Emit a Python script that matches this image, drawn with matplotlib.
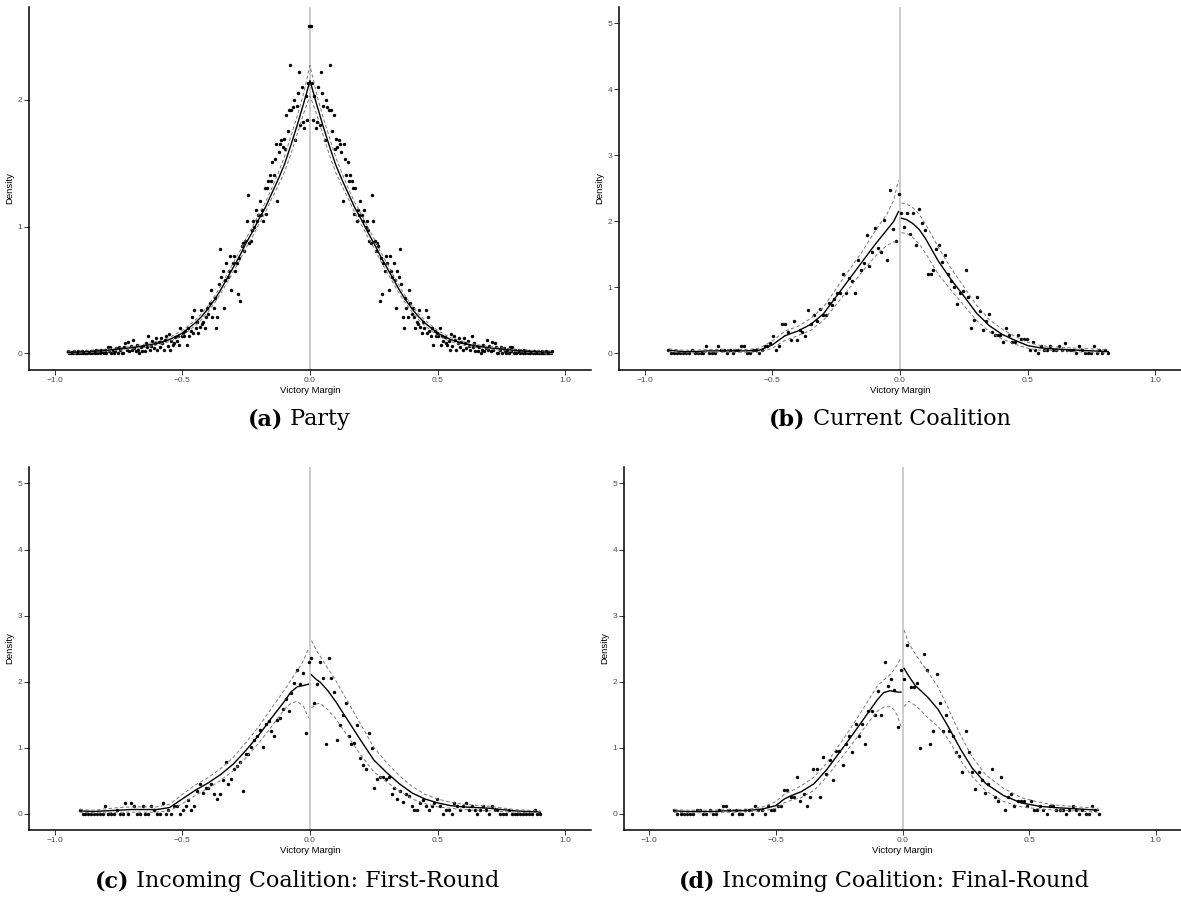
import matplotlib.pyplot as plt
import numpy as np

# (a) Party: the margin is symmetric (winner +m, loser -m), so only the left half is listed
bin_a = 0.005
dens_a_izq = [
    0.02, 0.00, 0.00, 0.01, 0.00, 0.02, 0.00, 0.00, 0.02, 0.00,
    0.00, 0.02, 0.00, 0.00, 0.02, 0.00, 0.01, 0.00, 0.02, 0.00,
    0.02, 0.00, 0.03, 0.00, 0.02, 0.00, 0.03, 0.01, 0.00, 0.03,
    0.00, 0.05, 0.02, 0.05, 0.00, 0.03, 0.00, 0.02, 0.04, 0.00,
    0.05, 0.03, 0.00, 0.00, 0.05, 0.08, 0.03, 0.09, 0.02, 0.06,
    0.03, 0.11, 0.04, 0.02, 0.07, 0.03, 0.00, 0.05, 0.02, 0.06,
    0.02, 0.08, 0.05, 0.135, 0.03, 0.06, 0.10, 0.04, 0.08, 0.12,
    0.03, 0.09, 0.05, 0.12, 0.08, 0.03, 0.11, 0.135, 0.06, 0.155,
    0.03, 0.10, 0.065, 0.08, 0.13, 0.10, 0.14, 0.065, 0.20, 0.135,
    0.16, 0.135, 0.18, 0.065, 0.20, 0.135, 0.18, 0.29, 0.16, 0.34,
    0.20, 0.25, 0.16, 0.21, 0.34, 0.23, 0.25, 0.20, 0.29, 0.36,
    0.31, 0.40, 0.50, 0.29, 0.36, 0.44, 0.20, 0.29, 0.55, 0.82,
    0.60, 0.65, 0.36, 0.58, 0.71, 0.60, 0.65, 0.77, 0.50, 0.71,
    0.77, 0.65, 0.71, 0.47, 0.75, 0.41, 0.85, 0.87, 0.81, 0.89,
    1.04, 1.25, 0.87, 0.89, 0.97, 1.04, 1.00, 1.13, 1.04, 1.09,
    1.20, 1.09, 1.13, 1.04, 1.30, 1.10, 1.30, 1.36, 1.41, 1.36,
    1.51, 1.41, 1.53, 1.65, 1.20, 1.59, 1.65, 1.68, 1.63, 1.69,
    1.61, 1.88, 1.75, 1.92, 2.27, 1.92, 1.94, 2.00, 1.68, 1.95,
    2.05, 2.22, 1.80, 2.10, 1.82, 1.78, 2.03, 1.84, 2.13, 2.58,
]
nudos_a = [-0.95, -0.9, -0.85, -0.8, -0.75, -0.7, -0.65, -0.6, -0.55, -0.5,
           -0.45, -0.425, -0.4, -0.375, -0.35, -0.325, -0.3, -0.275, -0.25,
           -0.225, -0.2, -0.175, -0.15, -0.125, -0.1, -0.075, -0.05, -0.025, 0.0]
ajuste_a = [0.01, 0.013, 0.018, 0.025, 0.035, 0.045, 0.06, 0.08, 0.11, 0.16,
            0.24, 0.29, 0.35, 0.42, 0.50, 0.59, 0.68, 0.77, 0.87,
            0.96, 1.06, 1.15, 1.26, 1.37, 1.49, 1.64, 1.80, 1.97, 2.15]
sup_a = [0.02, 0.022, 0.027, 0.034, 0.045, 0.055, 0.072, 0.094, 0.126, 0.18,
         0.262, 0.313, 0.375, 0.447, 0.53, 0.622, 0.715, 0.805, 0.907,
         0.999, 1.10, 1.19, 1.30, 1.42, 1.55, 1.71, 1.87, 2.05, 2.27]
inf_a = [0.00, 0.004, 0.009, 0.016, 0.025, 0.035, 0.048, 0.066, 0.094, 0.14,
         0.218, 0.267, 0.325, 0.393, 0.47, 0.558, 0.645, 0.735, 0.833,
         0.921, 1.02, 1.11, 1.22, 1.32, 1.43, 1.57, 1.73, 1.89, 2.03]

# (b) Current Coalition
bin_b = 0.0114
dens_b_izq = [
    0.06, 0.00, 0.00, 0.00, 0.00, 0.00, 0.00, 0.00, 0.06, 0.00,
    0.00, 0.00, 0.00, 0.11, 0.00, 0.00, 0.00, 0.11, 0.06, 0.06,
    0.00, 0.06, 0.00, 0.06, 0.06, 0.11, 0.11, 0.00, 0.00, 0.06,
    0.06, 0.00, 0.06, 0.11, 0.11, 0.16, 0.27, 0.06, 0.11, 0.44,
    0.44, 0.32, 0.21, 0.49, 0.21, 0.36, 0.32, 0.27, 0.66, 0.44,
    0.59, 0.49, 0.67, 0.59, 0.59, 0.77, 0.74, 0.82, 0.92, 0.92,
    1.20, 0.92, 1.15, 1.10, 0.92, 1.42, 1.26, 1.37, 1.80, 1.32,
    1.54, 1.90, 1.60, 1.54, 2.03, 1.42, 2.47, 1.88, 1.70, 2.41,
]
dens_b_der = [
    2.13, 1.92, 2.13, 1.81, 2.13, 1.64, 2.19, 1.97, 1.87, 1.20,
    1.20, 1.26, 1.58, 1.64, 1.39, 1.49, 1.21, 1.10, 1.00, 0.75,
    0.92, 0.95, 1.26, 0.85, 0.39, 0.50, 0.85, 0.65, 0.36, 0.49,
    0.60, 0.33, 0.28, 0.28, 0.28, 0.17, 0.39, 0.28, 0.17, 0.17,
    0.28, 0.22, 0.22, 0.22, 0.06, 0.17, 0.06, 0.00, 0.11, 0.06,
    0.06, 0.11, 0.06, 0.06, 0.11, 0.06, 0.16, 0.06, 0.06, 0.06,
    0.00, 0.11, 0.06, 0.00, 0.00, 0.00, 0.11, 0.00, 0.06, 0.00,
    0.06, 0.00,
]
nudos_b_izq = [-0.906, -0.85, -0.8, -0.75, -0.7, -0.65, -0.6, -0.55, -0.5, -0.45, -0.4,
               -0.35, -0.3, -0.25, -0.2, -0.15, -0.1, -0.075, -0.05, -0.025, -0.006]
ajuste_b_izq = [0.05, 0.03, 0.03, 0.04, 0.04, 0.04, 0.04, 0.05, 0.13, 0.27, 0.34,
                0.44, 0.60, 0.86, 1.12, 1.38, 1.64, 1.76, 1.88, 2.00, 2.15]
sup_b_izq = [0.07, 0.05, 0.05, 0.06, 0.06, 0.06, 0.06, 0.08, 0.19, 0.34, 0.41,
             0.53, 0.70, 0.98, 1.26, 1.53, 1.84, 1.98, 2.12, 2.32, 2.62]
inf_b_izq = [0.03, 0.01, 0.01, 0.02, 0.02, 0.02, 0.02, 0.02, 0.08, 0.20, 0.27,
             0.35, 0.50, 0.74, 0.98, 1.23, 1.46, 1.56, 1.64, 1.69, 1.69]
nudos_b_der = [0.006, 0.025, 0.05, 0.075, 0.1, 0.125, 0.15, 0.2, 0.25, 0.3,
               0.35, 0.4, 0.45, 0.5, 0.55, 0.6, 0.65, 0.7, 0.75, 0.815]
ajuste_b_der = [2.05, 2.03, 1.97, 1.88, 1.74, 1.57, 1.40, 1.12, 0.87, 0.61,
                0.42, 0.29, 0.20, 0.12, 0.085, 0.07, 0.06, 0.05, 0.04, 0.03]
sup_b_der = [2.28, 2.27, 2.21, 2.11, 1.96, 1.79, 1.61, 1.29, 1.01, 0.73,
             0.51, 0.37, 0.26, 0.17, 0.12, 0.10, 0.09, 0.08, 0.07, 0.06]
inf_b_der = [1.83, 1.82, 1.76, 1.66, 1.52, 1.36, 1.20, 0.96, 0.73, 0.50,
             0.33, 0.22, 0.14, 0.08, 0.05, 0.045, 0.035, 0.025, 0.015, 0.005]

# (c) Incoming Coalition: First-Round
bin_c = 0.0112
dens_c_izq = [
    0.05, 0.00, 0.00, 0.00, 0.00, 0.00, 0.00, 0.00, 0.00, 0.11,
    0.00, 0.00, 0.00, 0.05, 0.00, 0.00, 0.16, 0.00, 0.16, 0.11,
    0.00, 0.00, 0.11, 0.00, 0.00, 0.11, 0.05, 0.00, 0.00, 0.16,
    0.00, 0.05, 0.00, 0.11, 0.11, 0.00, 0.05, 0.11,
    0.21, 0.05, 0.11, 0.34, 0.45, 0.31, 0.39, 0.39, 0.44, 0.29,
    0.22, 0.29, 0.51, 0.78, 0.44, 0.52,
    0.67, 0.72, 0.78, 0.34, 0.90, 0.90, 1.01, 1.12, 1.17, 1.27,
    1.01, 1.35, 1.40, 1.25, 1.17, 1.41, 1.45, 1.58, 1.73, 1.55,
    1.83, 1.98, 2.18, 1.96, 2.13, 1.22, 2.29,
]
dens_c_der = [
    2.35, 1.67, 1.96, 2.30, 2.06, 1.06, 2.35, 2.06, 1.84, 1.11,
    1.34, 1.50, 1.67, 1.17, 1.06, 1.07, 1.34, 0.84, 0.74, 0.67,
    1.22, 1.00, 0.39, 0.52, 0.56, 0.56, 0.52, 0.56, 0.29, 0.39,
    0.22, 0.34, 0.17, 0.29, 0.27, 0.11, 0.05, 0.05, 0.16, 0.21,
    0.11, 0.05, 0.11, 0.16, 0.22,
    0.11, 0.00, 0.05, 0.05, 0.00, 0.16, 0.11, 0.05, 0.11, 0.16,
    0.05, 0.11, 0.05, 0.00, 0.05, 0.11, 0.05, 0.00, 0.11, 0.05,
    0.05, 0.00, 0.00, 0.00, 0.05, 0.00, 0.00, 0.00, 0.00, 0.00,
    0.00, 0.00, 0.00, 0.05, 0.00, 0.00,
]
nudos_c_izq = [-0.902, -0.85, -0.8, -0.75, -0.7, -0.65, -0.6, -0.55, -0.5, -0.45, -0.4,
               -0.35, -0.3, -0.25, -0.2, -0.15, -0.1, -0.075, -0.05, -0.025, -0.006]
ajuste_c_izq = [0.04, 0.03, 0.04, 0.05, 0.06, 0.06, 0.06, 0.09, 0.22, 0.35, 0.46,
                0.59, 0.75, 0.96, 1.19, 1.45, 1.70, 1.84, 1.92, 1.94, 1.96]
sup_c_izq = [0.06, 0.05, 0.07, 0.09, 0.10, 0.10, 0.10, 0.14, 0.29, 0.43, 0.54,
             0.68, 0.85, 1.08, 1.32, 1.60, 1.87, 2.02, 2.16, 2.32, 2.50]
inf_c_izq = [0.02, 0.01, 0.01, 0.02, 0.02, 0.02, 0.02, 0.04, 0.15, 0.27, 0.38,
             0.50, 0.65, 0.85, 1.07, 1.32, 1.58, 1.67, 1.70, 1.62, 1.45]
nudos_c_der = [0.006, 0.025, 0.04, 0.07, 0.1, 0.15, 0.2, 0.25, 0.3,
               0.35, 0.4, 0.45, 0.5, 0.55, 0.6, 0.7, 0.8, 0.902]
ajuste_c_der = [2.10, 2.03, 1.99, 1.86, 1.70, 1.40, 1.10, 0.81, 0.62,
                0.45, 0.31, 0.22, 0.16, 0.12, 0.10, 0.08, 0.04, 0.02]
sup_c_der = [2.62, 2.47, 2.38, 2.20, 2.02, 1.68, 1.34, 1.00, 0.77,
             0.57, 0.41, 0.29, 0.22, 0.17, 0.14, 0.11, 0.06, 0.04]
inf_c_der = [1.60, 1.66, 1.67, 1.57, 1.44, 1.16, 0.88, 0.63, 0.48,
             0.34, 0.22, 0.15, 0.10, 0.08, 0.06, 0.04, 0.02, 0.01]

# (d) Incoming Coalition: Final-Round
bin_d = 0.0128
dens_d_izq = [
    0.06, 0.00, 0.00, 0.00, 0.00, 0.00, 0.00, 0.06, 0.06, 0.00,
    0.00, 0.06, 0.00, 0.00, 0.06, 0.12, 0.12, 0.06, 0.00, 0.06,
    0.00, 0.00, 0.06, 0.06, 0.00, 0.12, 0.06, 0.06, 0.00, 0.12,
    0.06, 0.06, 0.12, 0.12, 0.36, 0.36, 0.25, 0.25, 0.56, 0.19,
    0.30, 0.12, 0.25, 0.68, 0.68, 0.25, 0.86, 0.60, 0.81, 0.51,
    0.94, 0.94, 0.74, 1.06, 1.18, 0.93, 1.36, 1.18, 1.36, 1.06,
    1.55, 1.55, 1.50, 1.86, 1.50, 2.30, 1.93, 2.04, 1.87, 1.31,
    2.17,
]
dens_d_der = [
    2.04, 2.55, 1.92, 1.92, 1.98, 1.00, 2.41, 2.17, 1.06, 1.25,
    2.11, 1.68, 1.25, 1.49, 1.25, 1.18, 0.93, 0.87, 0.63, 1.25,
    0.93, 0.63, 0.37, 0.63, 0.51, 0.31, 0.44, 0.68, 0.25, 0.19,
    0.56, 0.06, 0.25, 0.30, 0.12, 0.19, 0.19, 0.19, 0.12, 0.19,
    0.06, 0.06, 0.12, 0.06, 0.00, 0.12, 0.12, 0.06, 0.06, 0.06,
    0.00, 0.06, 0.12, 0.06, 0.00, 0.06, 0.00, 0.00, 0.12, 0.06,
    0.00,
]
nudos_d_izq = [-0.902, -0.85, -0.8, -0.75, -0.7, -0.65, -0.6, -0.55, -0.5, -0.467, -0.44,
               -0.4, -0.35, -0.3, -0.25, -0.2, -0.15, -0.1, -0.075, -0.05, -0.035, -0.02, -0.006]
ajuste_d_izq = [0.04, 0.03, 0.03, 0.03, 0.04, 0.04, 0.05, 0.07, 0.12, 0.22, 0.27,
                0.33, 0.45, 0.66, 0.92, 1.18, 1.45, 1.72, 1.83, 1.86, 1.85, 1.84, 1.84]
sup_d_izq = [0.06, 0.05, 0.05, 0.05, 0.06, 0.06, 0.07, 0.10, 0.18, 0.29, 0.34,
             0.42, 0.55, 0.76, 1.04, 1.32, 1.62, 1.93, 2.02, 2.10, 2.17, 2.26, 2.36]
inf_d_izq = [0.02, 0.01, 0.01, 0.01, 0.02, 0.02, 0.03, 0.04, 0.08, 0.16, 0.20,
             0.24, 0.35, 0.55, 0.80, 1.05, 1.30, 1.55, 1.61, 1.62, 1.58, 1.48, 1.32]
nudos_d_der = [0.006, 0.025, 0.05, 0.075, 0.1, 0.14, 0.18, 0.23, 0.275,
               0.33, 0.4, 0.47, 0.54, 0.6, 0.69, 0.774]
ajuste_d_der = [2.20, 2.08, 1.94, 1.85, 1.76, 1.58, 1.32, 0.97, 0.69,
                0.45, 0.27, 0.16, 0.11, 0.09, 0.07, 0.05]
sup_d_der = [2.78, 2.58, 2.42, 2.28, 2.15, 1.92, 1.60, 1.18, 0.86,
             0.58, 0.38, 0.24, 0.17, 0.13, 0.10, 0.08]
inf_d_der = [1.62, 1.70, 1.64, 1.55, 1.45, 1.32, 1.13, 0.80, 0.56,
             0.34, 0.18, 0.10, 0.07, 0.05, 0.04, 0.02]

leyendas = [("(a)", "Party"), ("(b)", "Current Coalition"),
            ("(c)", "Incoming Coalition: First-Round"),
            ("(d)", "Incoming Coalition: Final-Round")]


def centros(h, n_izq, n_der):
    '''Bin centres on each side of the cut at zero'''
    izq = -(h / 2 + h * np.arange(n_izq))[::-1]
    der = h / 2 + h * np.arange(n_der)
    return izq, der


def dibujar_panel(ax, puntos, tramos, ymax, yticks):
    '''Binned density, local-linear fit and 95% band on each side of zero'''
    ax.axvline(0, color='#cccccc', lw=1.4, zorder=0)
    for x, y in puntos:
        ax.scatter(x, y, s=6, c='black', linewidths=0, zorder=3)
    for x, f, hi, lo in tramos:
        ax.plot(x, f, color='black', lw=1.0, zorder=4)
        ax.plot(x, hi, color='#777777', lw=0.7, ls=(0, (3.5, 2.5)), zorder=4)
        ax.plot(x, lo, color='#777777', lw=0.7, ls=(0, (3.5, 2.5)), zorder=4)
    ax.set_xlim(-1.1, 1.1)
    ax.set_ylim(-0.05 * ymax, 1.05 * ymax)
    ax.set_xticks([-1.0, -0.5, 0.0, 0.5, 1.0])
    ax.set_xticklabels(['\u22121.0', '\u22120.5', '0.0', '0.5', '1.0'])
    ax.set_yticks(yticks)
    for lado in ['top', 'right']:
        ax.spines[lado].set_visible(False)
    for lado in ['left', 'bottom']:
        ax.spines[lado].set_linewidth(1.1)
        ax.spines[lado].set_color('black')
    ax.tick_params(length=3.5, width=0.7, color='#333333', labelcolor='#4d4d4d',
                   labelsize=6, pad=1.5)
    ax.set_xlabel('Victory Margin', fontsize=6.8, labelpad=1.5)
    ax.set_ylabel('Density', fontsize=6.8, labelpad=2)


plt.rcParams['font.family'] = ['Liberation Sans', 'DejaVu Sans']
fig = plt.figure(figsize=(11.81, 9.05), dpi=100)
W, H = 1181, 905

posiciones = [
    [29 / W, 535 / H, 562 / W, 363 / H],
    [619 / W, 535 / H, 562 / W, 363 / H],
    [29 / W, 75 / H, 562 / W, 363 / H],
    [624 / W, 75 / H, 557 / W, 363 / H],
]
axes = [fig.add_axes(p) for p in posiciones]

# (a)
xa_izq, xa_der = centros(bin_a, len(dens_a_izq), len(dens_a_izq))
dens_a = np.array(dens_a_izq)
nudos = np.array(nudos_a)
dibujar_panel(
    axes[0],
    [(xa_izq, dens_a), (xa_der, dens_a[::-1])],
    [(np.concatenate([nudos, -nudos[::-1][1:]]),
      np.concatenate([ajuste_a, ajuste_a[::-1][1:]]),
      np.concatenate([sup_a, sup_a[::-1][1:]]),
      np.concatenate([inf_a, inf_a[::-1][1:]]))],
    2.6, [0, 1, 2])

# (b), (c), (d)
paneles = [
    (bin_b, dens_b_izq, dens_b_der,
     (nudos_b_izq, ajuste_b_izq, sup_b_izq, inf_b_izq),
     (nudos_b_der, ajuste_b_der, sup_b_der, inf_b_der)),
    (bin_c, dens_c_izq, dens_c_der,
     (nudos_c_izq, ajuste_c_izq, sup_c_izq, inf_c_izq),
     (nudos_c_der, ajuste_c_der, sup_c_der, inf_c_der)),
    (bin_d, dens_d_izq, dens_d_der,
     (nudos_d_izq, ajuste_d_izq, sup_d_izq, inf_d_izq),
     (nudos_d_der, ajuste_d_der, sup_d_der, inf_d_der)),
]
for ax, (h, d_izq, d_der, t_izq, t_der) in zip(axes[1:], paneles):
    x_izq, x_der = centros(h, len(d_izq), len(d_der))
    dibujar_panel(ax, [(x_izq, d_izq), (x_der, d_der)], [t_izq, t_der],
                  5, [0, 1, 2, 3, 4, 5])

# captions under each panel: bold letter followed by the title
renderer = fig.canvas.get_renderer()
centros_leyenda = [(299, 425), (890, 425), (297, 887), (884, 887)]
for (etiqueta, texto), (cx, base) in zip(leyendas, centros_leyenda):
    t1 = fig.text(0, 1 - base / H, etiqueta, fontsize=16, fontweight='bold',
                  family='DejaVu Serif', va='baseline')
    t2 = fig.text(0, 1 - base / H, ' ' + texto, fontsize=16,
                  family='DejaVu Serif', va='baseline')
    w1 = t1.get_window_extent(renderer).width
    w2 = t2.get_window_extent(renderer).width
    x0 = cx - (w1 + w2) / 2
    t1.set_x(x0 / W)
    t2.set_x((x0 + w1) / W)

fig.savefig('out.png', dpi=100)
